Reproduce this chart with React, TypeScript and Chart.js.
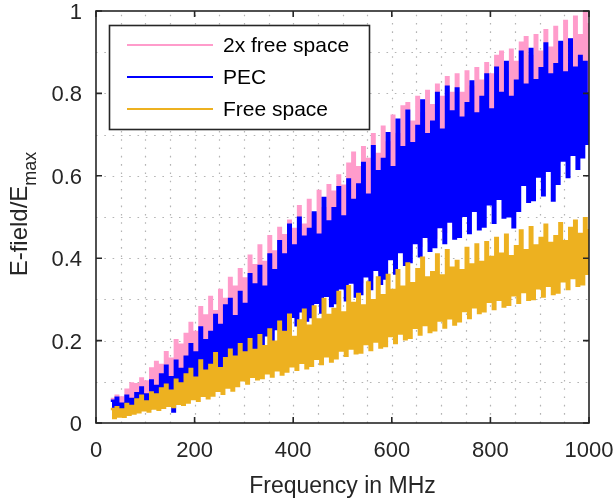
import React, { useEffect, useRef } from "react";
import { Chart, registerables } from "chart.js";

Chart.register(...registerables);

// ---------------- data ----------------
const freqMHz = [
  30, 35, 40, 45, 50, 55, 60, 65, 70, 75,
  80, 85, 90, 95, 100, 105, 110, 115, 120, 125,
  130, 135, 140, 145, 150, 155, 160, 165, 170, 175,
  180, 185, 190, 195, 200, 205, 210, 215, 220, 225,
  230, 235, 240, 245, 250, 255, 260, 265, 270, 275,
  280, 285, 290, 295, 300, 305, 310, 315, 320, 325,
  330, 335, 340, 345, 350, 355, 360, 365, 370, 375,
  380, 385, 390, 395, 400, 405, 410, 415, 420, 425,
  430, 435, 440, 445, 450, 455, 460, 465, 470, 475,
  480, 485, 490, 495, 500, 505, 510, 515, 520, 525,
  530, 535, 540, 545, 550, 555, 560, 565, 570, 575,
  580, 585, 590, 595, 600, 605, 610, 615, 620, 625,
  630, 635, 640, 645, 650, 655, 660, 665, 670, 675,
  680, 685, 690, 695, 700, 705, 710, 715, 720, 725,
  730, 735, 740, 745, 750, 755, 760, 765, 770, 775,
  780, 785, 790, 795, 800, 805, 810, 815, 820, 825,
  830, 835, 840, 845, 850, 855, 860, 865, 870, 875,
  880, 885, 890, 895, 900, 905, 910, 915, 920, 925,
  930, 935, 940, 945, 950, 955, 960, 965, 970, 975,
  980, 985, 990, 995, 1000,
];

const twoXFreeSpace = [
  0.058, 0.026, 0.066, 0.032, 0.062, 0.031, 0.081, 0.04, 0.096, 0.045,
  0.094, 0.052, 0.108, 0.061, 0.101, 0.057, 0.132, 0.069, 0.148, 0.065,
  0.141, 0.074, 0.172, 0.083, 0.156, 0.078, 0.201, 0.094, 0.19, 0.088,
  0.216, 0.1, 0.243, 0.116, 0.221, 0.108, 0.281, 0.131, 0.261, 0.12,
  0.306, 0.134, 0.271, 0.156, 0.323, 0.142, 0.301, 0.172, 0.352, 0.158,
  0.331, 0.18, 0.373, 0.208, 0.351, 0.192, 0.406, 0.224, 0.383, 0.212,
  0.431, 0.218, 0.391, 0.242, 0.453, 0.226, 0.416, 0.256, 0.473, 0.236,
  0.456, 0.25, 0.491, 0.276, 0.471, 0.258, 0.526, 0.292, 0.481, 0.266,
  0.541, 0.278, 0.506, 0.312, 0.563, 0.286, 0.521, 0.324, 0.577, 0.298,
  0.561, 0.314, 0.601, 0.352, 0.576, 0.326, 0.629, 0.362, 0.656, 0.338,
  0.621, 0.342, 0.669, 0.384, 0.641, 0.354, 0.701, 0.396, 0.653, 0.366,
  0.719, 0.374, 0.681, 0.422, 0.746, 0.388, 0.701, 0.434, 0.768, 0.406,
  0.776, 0.414, 0.731, 0.462, 0.791, 0.43, 0.751, 0.476, 0.806, 0.442,
  0.771, 0.45, 0.821, 0.498, 0.791, 0.464, 0.839, 0.508, 0.801, 0.478,
  0.846, 0.494, 0.801, 0.544, 0.853, 0.51, 0.816, 0.562, 0.861, 0.534,
  0.831, 0.542, 0.873, 0.588, 0.846, 0.554, 0.891, 0.598, 0.901, 0.566,
  0.851, 0.574, 0.906, 0.62, 0.876, 0.584, 0.923, 0.636, 0.936, 0.598,
  0.891, 0.602, 0.941, 0.654, 0.901, 0.614, 0.953, 0.666, 0.911, 0.626,
  0.961, 0.634, 0.921, 0.688, 0.976, 0.65, 0.931, 0.704, 0.986, 0.666,
  0.941, 0.674, 0.996, 0.724, 0.971,
];

const pec = [
  0.054, 0.021, 0.061, 0.026, 0.047, 0.024, 0.066, 0.03, 0.058, 0.028,
  0.072, 0.033, 0.086, 0.041, 0.069, 0.036, 0.103, 0.045, 0.09, 0.042,
  0.118, 0.048, 0.139, 0.057, 0.111, 0.028, 0.151, 0.062, 0.131, 0.059,
  0.161, 0.074, 0.191, 0.086, 0.171, 0.079, 0.232, 0.095, 0.201, 0.09,
  0.221, 0.102, 0.262, 0.121, 0.238, 0.113, 0.285, 0.133, 0.301, 0.127,
  0.259, 0.141, 0.318, 0.166, 0.289, 0.154, 0.361, 0.182, 0.336, 0.176,
  0.381, 0.187, 0.331, 0.213, 0.409, 0.199, 0.371, 0.228, 0.441, 0.215,
  0.409, 0.226, 0.481, 0.258, 0.431, 0.237, 0.498, 0.271, 0.452, 0.249,
  0.471, 0.257, 0.511, 0.292, 0.457, 0.268, 0.546, 0.309, 0.489, 0.284,
  0.521, 0.291, 0.572, 0.327, 0.501, 0.298, 0.591, 0.341, 0.541, 0.307,
  0.579, 0.313, 0.631, 0.356, 0.554, 0.325, 0.672, 0.372, 0.611, 0.338,
  0.641, 0.351, 0.703, 0.398, 0.621, 0.363, 0.736, 0.415, 0.669, 0.384,
  0.758, 0.391, 0.679, 0.437, 0.721, 0.405, 0.783, 0.452, 0.701, 0.418,
  0.731, 0.427, 0.801, 0.476, 0.712, 0.437, 0.816, 0.489, 0.756, 0.448,
  0.812, 0.452, 0.741, 0.503, 0.776, 0.461, 0.829, 0.515, 0.751, 0.47,
  0.791, 0.477, 0.846, 0.531, 0.761, 0.486, 0.862, 0.544, 0.801, 0.499,
  0.876, 0.502, 0.791, 0.475, 0.831, 0.515, 0.901, 0.578, 0.821, 0.537,
  0.908, 0.541, 0.832, 0.598, 0.861, 0.553, 0.921, 0.612, 0.846, 0.54,
  0.871, 0.581, 0.925, 0.637, 0.851, 0.597, 0.931, 0.651, 0.862, 0.617,
  0.891, 0.645, 0.876, 0.678, 0.803,
];

const freeSpace = [
  0.034, 0.012, 0.038, 0.016, 0.033, 0.015, 0.046, 0.02, 0.041, 0.023,
  0.057, 0.026, 0.066, 0.031, 0.052, 0.028, 0.074, 0.035, 0.069, 0.032,
  0.084, 0.037, 0.093, 0.042, 0.078, 0.039, 0.105, 0.047, 0.096, 0.044,
  0.118, 0.05, 0.131, 0.058, 0.11, 0.054, 0.152, 0.066, 0.127, 0.06,
  0.141, 0.067, 0.169, 0.078, 0.133, 0.071, 0.157, 0.086, 0.178, 0.079,
  0.161, 0.09, 0.191, 0.104, 0.171, 0.096, 0.203, 0.112, 0.177, 0.106,
  0.213, 0.109, 0.186, 0.121, 0.227, 0.113, 0.197, 0.128, 0.246, 0.118,
  0.221, 0.125, 0.263, 0.138, 0.209, 0.129, 0.249, 0.146, 0.275, 0.133,
  0.236, 0.139, 0.283, 0.156, 0.251, 0.143, 0.301, 0.162, 0.262, 0.149,
  0.277, 0.157, 0.318, 0.176, 0.268, 0.163, 0.332, 0.181, 0.291, 0.169,
  0.313, 0.171, 0.285, 0.192, 0.341, 0.177, 0.298, 0.198, 0.353, 0.183,
  0.31, 0.187, 0.359, 0.211, 0.323, 0.194, 0.371, 0.217, 0.331, 0.203,
  0.387, 0.207, 0.339, 0.231, 0.373, 0.215, 0.401, 0.238, 0.353, 0.221,
  0.366, 0.225, 0.409, 0.249, 0.358, 0.232, 0.419, 0.254, 0.377, 0.239,
  0.393, 0.247, 0.371, 0.272, 0.425, 0.255, 0.385, 0.281, 0.433, 0.267,
  0.391, 0.271, 0.439, 0.294, 0.403, 0.277, 0.449, 0.299, 0.411, 0.283,
  0.457, 0.287, 0.405, 0.31, 0.429, 0.292, 0.467, 0.318, 0.419, 0.299,
  0.475, 0.301, 0.431, 0.327, 0.449, 0.307, 0.481, 0.333, 0.437, 0.313,
  0.453, 0.317, 0.485, 0.344, 0.441, 0.325, 0.473, 0.352, 0.491, 0.333,
  0.459, 0.337, 0.497, 0.362, 0.471,
];

const seriesLabels = ["2x free space", "PEC", "Free space"];
const seriesColors = ["#ff9ccb", "#0000ff", "#edb120"];
const xTickStep = 200;
const yTickStep = 0.2;
const xGridStep = 50;
const yGridStep = 0.1;

// ---------------- styling ----------------
const FONT = '"Liberation Sans", Arial, Helvetica, sans-serif';
const INK = "#262626";

const decorPlugin = {
  id: "decor",
  beforeDatasetsDraw(chart: any) {
    const { ctx, chartArea: a, scales } = chart;
    const x = scales.x;
    const y = scales.y;
    ctx.save();
    ctx.strokeStyle = "#b4b4b4";
    ctx.lineWidth = 1.2;
    ctx.setLineDash([1.6, 6.7]);
    for (let v = xGridStep; v < 1000; v += xGridStep) {
      const px = Math.round(x.getPixelForValue(v)) + 0.5;
      ctx.beginPath();
      ctx.moveTo(px, a.bottom);
      ctx.lineTo(px, a.top);
      ctx.stroke();
    }
    for (let k = 1; k < 10; k++) {
      const py = Math.round(y.getPixelForValue(k * yGridStep)) + 0.5;
      ctx.beginPath();
      ctx.moveTo(a.left, py);
      ctx.lineTo(a.right, py);
      ctx.stroke();
    }
    ctx.restore();
  },
  afterDraw(chart: any) {
    const { ctx, chartArea: a, scales } = chart;
    const x = scales.x;
    const y = scales.y;
    ctx.save();
    // frame
    ctx.strokeStyle = INK;
    ctx.lineWidth = 1.6;
    ctx.setLineDash([]);
    ctx.strokeRect(a.left, a.top, a.right - a.left, a.bottom - a.top);
    // inward tick marks
    const tl = 6;
    ctx.beginPath();
    for (let v = 0; v <= 1000; v += xTickStep) {
      const px = x.getPixelForValue(v);
      ctx.moveTo(px, a.bottom);
      ctx.lineTo(px, a.bottom - tl);
      ctx.moveTo(px, a.top);
      ctx.lineTo(px, a.top + tl);
    }
    for (let k = 0; k <= 5; k++) {
      const py = y.getPixelForValue(k * yTickStep);
      ctx.moveTo(a.left, py);
      ctx.lineTo(a.left + tl, py);
      ctx.moveTo(a.right, py);
      ctx.lineTo(a.right - tl, py);
    }
    ctx.stroke();

    // legend
    const lx = 109.5, ly = 25.5, lw = 260, lh = 104;
    ctx.fillStyle = "#ffffff";
    ctx.fillRect(lx, ly, lw, lh);
    ctx.strokeStyle = INK;
    ctx.lineWidth = 1.6;
    ctx.strokeRect(lx, ly, lw, lh);
    ctx.font = `21px ${FONT}`;
    ctx.textBaseline = "middle";
    ctx.textAlign = "left";
    chart.data.datasets.forEach((ds: any, i: number) => {
      const ry = 45 + i * 32;
      ctx.strokeStyle = ds.borderColor;
      ctx.lineWidth = 2;
      ctx.beginPath();
      ctx.moveTo(127, ry);
      ctx.lineTo(213, ry);
      ctx.stroke();
      ctx.fillStyle = "#000000";
      ctx.fillText(ds.label, 223, ry + 1);
    });

    // y-axis title with subscript
    const main = "E-field/E";
    const sub = "max";
    ctx.font = `24px ${FONT}`;
    const w1 = ctx.measureText(main).width;
    ctx.font = `18px ${FONT}`;
    const w2 = ctx.measureText(sub).width;
    const cy = (a.top + a.bottom) / 2 - 3;
    ctx.translate(27, cy + (w1 + w2) / 2);
    ctx.rotate(-Math.PI / 2);
    ctx.fillStyle = INK;
    ctx.textBaseline = "alphabetic";
    ctx.font = `24px ${FONT}`;
    ctx.fillText(main, 0, 0);
    ctx.font = `18px ${FONT}`;
    ctx.fillText(sub, w1, 9);
    ctx.restore();
  },
};

function toPoints(values: number[]) {
  return freqMHz.map((f, i) => ({ x: f, y: values[i] }));
}

function plainNumber(v: number | string) {
  return String(Math.round(Number(v) * 10) / 10);
}

export default function App() {
  const ref = useRef<HTMLCanvasElement>(null);
  useEffect(() => {
    const seriesValues = [twoXFreeSpace, pec, freeSpace];
    const chart = new Chart(ref.current as HTMLCanvasElement, {
      type: "line",
      data: {
        datasets: seriesLabels.map((label, i) => ({
          label,
          data: toPoints(seriesValues[i]),
          borderColor: seriesColors[i],
          backgroundColor: seriesColors[i],
          borderWidth: 2.5,
          borderJoinStyle: "miter",
          stepped: true,
          pointRadius: 0,
          fill: false,
          order: 3 - i,
        })),
      },
      options: {
        responsive: false,
        animation: false,
        devicePixelRatio: 1,
        layout: { padding: { top: 11, right: 25, left: 0, bottom: 0 } },
        plugins: { legend: { display: false }, tooltip: { enabled: false } },
        scales: {
          x: {
            type: "linear",
            min: 0,
            max: 1000,
            afterFit: (s: any) => {
              s.height = 81;
              s.paddingLeft = 0;
              s.paddingRight = 0;
            },
            grid: { display: false, drawTicks: false },
            border: { display: false },
            ticks: {
              stepSize: xTickStep,
              color: INK,
              font: { family: FONT, size: 22 },
              padding: 15,
              maxRotation: 0,
              autoSkip: false,
              callback: (v: any) => plainNumber(v),
            },
            title: {
              display: true,
              text: "Frequency in MHz",
              color: INK,
              font: { family: FONT, size: 23 },
              padding: { top: 0, bottom: 3.5 },
            },
          },
          y: {
            type: "linear",
            min: 0,
            max: 1,
            afterFit: (s: any) => {
              s.width = 96;
              s.paddingTop = 0;
              s.paddingBottom = 0;
            },
            grid: { display: false, drawTicks: false },
            border: { display: false },
            ticks: {
              stepSize: yTickStep,
              color: INK,
              font: { family: FONT, size: 22 },
              padding: 14,
              labelOffset: 2,
              callback: (v: any) => plainNumber(v),
            },
          },
        },
      } as any,
      plugins: [decorPlugin],
    } as any);
    return () => chart.destroy();
  }, []);
  return (
    <div style={{ position: "fixed", left: 0, top: 0, width: 614, height: 504, background: "#ffffff" }}>
      <canvas ref={ref} width={614} height={504} style={{ display: "block", width: 614, height: 504 }} />
    </div>
  );
}
